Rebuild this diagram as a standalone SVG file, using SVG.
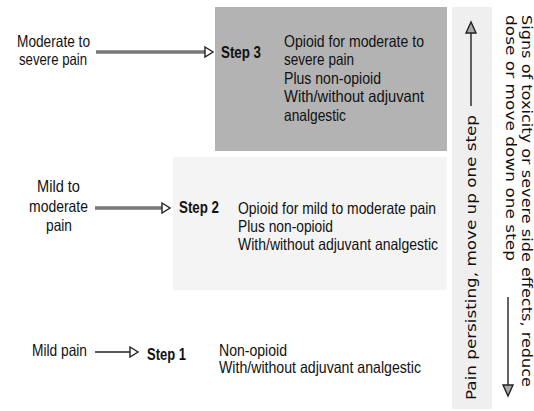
<svg xmlns="http://www.w3.org/2000/svg" width="534" height="411" viewBox="0 0 534 411">
<defs>
<style>
.t{font-family:"Liberation Sans",Arial,sans-serif;font-size:16.5px;fill:#111}
.b{font-family:"Liberation Sans",Arial,sans-serif;font-size:16.5px;font-weight:bold;fill:#111}
.r{font-family:"DejaVu Sans",Verdana,sans-serif;font-size:13.5px;fill:#111}
.thick{stroke:#777;stroke-width:3.5;fill:none}
.thin{stroke:#222;stroke-width:1.4;fill:none}
.head{fill:#aaa;stroke:#222;stroke-width:1.4}
.open{fill:#fff;stroke:#222;stroke-width:1.4}
</style>
</defs>
<rect width="534" height="411" fill="#fff"/>
<g id="step3">
<rect x="215" y="7" width="232" height="144" fill="#b3b3b3"/>
<text class="b" x="221" y="58" textLength="40" lengthAdjust="spacingAndGlyphs">Step 3</text>
<text class="t" x="284" y="47" textLength="140" lengthAdjust="spacingAndGlyphs">Opioid for moderate to</text>
<text class="t" x="284" y="65" textLength="70" lengthAdjust="spacingAndGlyphs">severe pain</text>
<text class="t" x="284" y="84" textLength="97" lengthAdjust="spacingAndGlyphs">Plus non-opioid</text>
<text class="t" x="284" y="102" textLength="140" lengthAdjust="spacingAndGlyphs">With/without adjuvant</text>
<text class="t" x="284" y="121" textLength="62" lengthAdjust="spacingAndGlyphs">analgestic</text>
</g>
<g id="step2">
<rect x="173" y="157" width="274" height="133" fill="#f4f4f4"/>
<text class="b" x="179" y="213" textLength="40" lengthAdjust="spacingAndGlyphs">Step 2</text>
<text class="t" x="238" y="214" textLength="198" lengthAdjust="spacingAndGlyphs">Opioid for mild to moderate pain</text>
<text class="t" x="238" y="232" textLength="95" lengthAdjust="spacingAndGlyphs">Plus non-opioid</text>
<text class="t" x="238" y="250" textLength="200" lengthAdjust="spacingAndGlyphs">With/without adjuvant analgestic</text>
</g>
<g id="step1">
<text class="b" x="147" y="360" textLength="39" lengthAdjust="spacingAndGlyphs">Step 1</text>
<text class="t" x="219" y="356" textLength="68" lengthAdjust="spacingAndGlyphs">Non-opioid</text>
<text class="t" x="219" y="373" textLength="202" lengthAdjust="spacingAndGlyphs">With/without adjuvant analgestic</text>
</g>
<g id="pain-moderate-severe">
<text class="t" x="17" y="47" textLength="73" lengthAdjust="spacingAndGlyphs">Moderate to</text>
<text class="t" x="19" y="65" textLength="68" lengthAdjust="spacingAndGlyphs">severe pain</text>
</g>
<g id="pain-mild-moderate">
<text class="t" x="37" y="192" textLength="43" lengthAdjust="spacingAndGlyphs">Mild to</text>
<text class="t" x="29" y="212" textLength="59" lengthAdjust="spacingAndGlyphs">moderate</text>
<text class="t" x="46" y="231" textLength="26" lengthAdjust="spacingAndGlyphs">pain</text>
</g>
<g id="pain-mild">
<text class="t" x="32" y="356" textLength="55" lengthAdjust="spacingAndGlyphs">Mild pain</text>
</g>
<g id="side-strip">
<rect x="452" y="7" width="40" height="402" fill="#efefef"/>
<text class="r" transform="translate(476,400) rotate(-90)" textLength="285" lengthAdjust="spacingAndGlyphs">Pain persisting, move up one step</text>
<text class="r" transform="translate(522,15) rotate(90)" textLength="372" lengthAdjust="spacingAndGlyphs">Signs of toxicity or severe side effects, reduce</text>
<text class="r" transform="translate(506,15) rotate(90)" textLength="246" lengthAdjust="spacingAndGlyphs">dose or move down one step</text>
</g>
<g id="connectors">
<line class="thick" x1="96" y1="52" x2="205" y2="52"/>
<polygon class="open" points="205,47 213,52 205,57"/>
<line class="thick" x1="95" y1="208" x2="162" y2="208"/>
<polygon class="open" points="162,203 170,208 162,213"/>
<line class="thin" x1="95" y1="352" x2="131" y2="352"/>
<polygon class="open" points="130,347 138,352 130,357"/>
<line class="thin" x1="471" y1="31" x2="471" y2="106"/>
<polygon class="head" points="471,22 466,33 476,33"/>
<line class="thin" x1="508" y1="297" x2="508" y2="386"/>
<polygon class="head" points="508,396 503,385 513,385"/>
</g>
</svg>
